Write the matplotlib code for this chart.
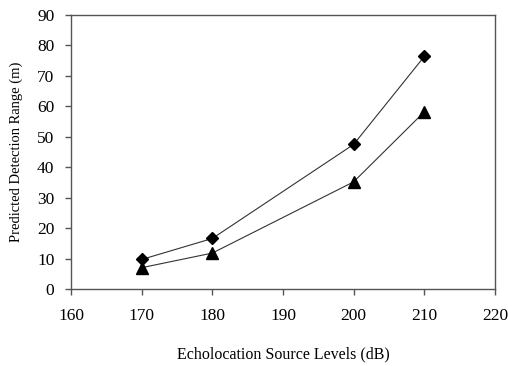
import matplotlib
matplotlib.use('Agg')
import matplotlib.pyplot as plt

levels = [170, 180, 200, 210]
range_diamond = [9.7, 16.6, 47.5, 76.4]
range_triangle = [7.0, 11.8, 35.2, 58.2]

plt.rcParams['font.family'] = ['Liberation Serif', 'DejaVu Serif']

fig = plt.figure(figsize=(5.08, 3.66), dpi=100)
ax = fig.add_axes([0.1398, 0.2104, 0.8346, 0.7486])

ax.plot(levels, range_diamond, color='#333333', lw=0.8, marker='D',
        markersize=6, markerfacecolor='black', markeredgecolor='black')
ax.plot(levels, range_triangle, color='#333333', lw=0.8, marker='^',
        markersize=8.5, markerfacecolor='black', markeredgecolor='black')

ax.set_xlim(160, 220)
ax.set_ylim(0, 90)
ax.set_xticks(range(160, 221, 10))
ax.set_yticks(range(0, 91, 10))
ax.tick_params(direction='out', length=4, width=1, color='#555555',
               labelsize=12.5)
ax.tick_params(axis='x', pad=10)
ax.tick_params(axis='y', pad=8)
for s in ax.spines.values():
    s.set_color('#555555')
    s.set_linewidth(1)

ax.set_xlabel('Echolocation Source Levels (dB)', fontsize=11.5, labelpad=16)
ax.set_ylabel('Predicted Detection Range (m)', fontsize=10.5, labelpad=10)

fig.savefig('out.png', dpi=100)
